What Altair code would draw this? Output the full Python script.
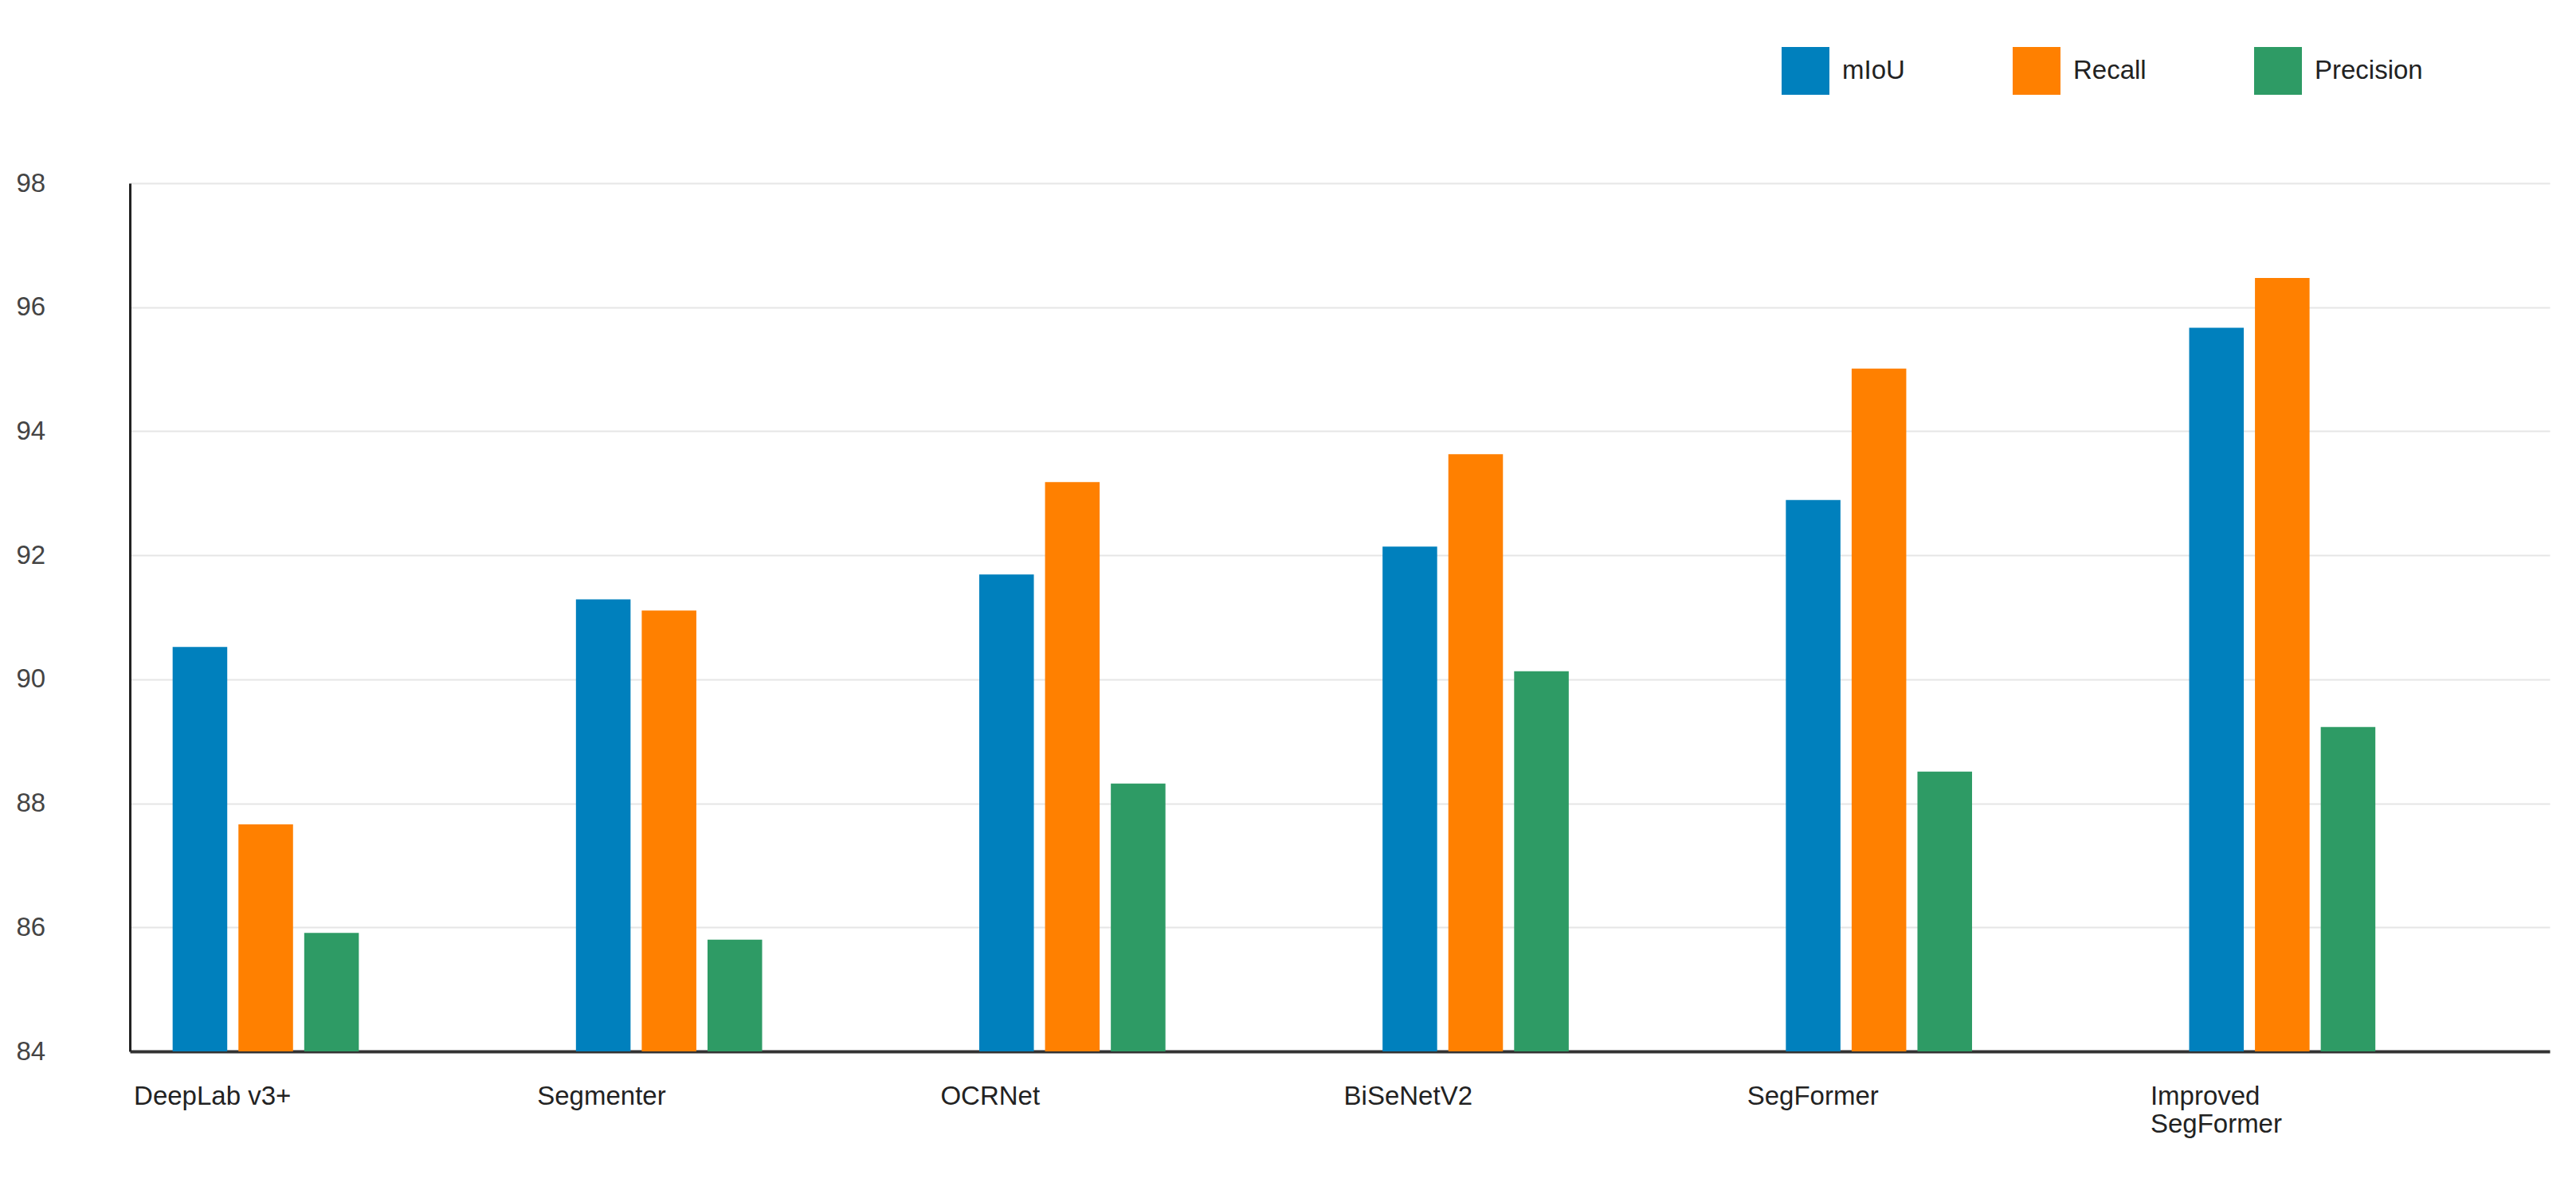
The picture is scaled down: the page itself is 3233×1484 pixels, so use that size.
import altair as alt
import pandas as pd

models = ["DeepLab v3+", "Segmenter", "OCRNet", "BiSeNetV2", "SegFormer", "Improved SegFormer"]
metrics = ["mIoU", "Recall", "Precision"]
miou = [90.52, 91.29, 91.69, 92.14, 92.89, 95.67]
recall = [87.66, 91.11, 93.18, 93.63, 95.01, 96.47]
precision = [85.91, 85.80, 88.32, 90.13, 88.51, 89.23]
colors = ["#0080BD", "#FF8000", "#2E9B65"]

rows = []
for i, m in enumerate(models):
    for name, vals in zip(metrics, [miou, recall, precision]):
        rows.append({"model": m, "metric": name, "value": vals[i]})
df = pd.DataFrame(rows)

FONT = "Liberation Sans"

chart = alt.Chart(df).mark_bar(clip=True).encode(
    x=alt.X("model:N", sort=models, title=None,
            scale=alt.Scale(paddingInner=0, paddingOuter=0),
            axis=alt.Axis(labelAngle=0, labelAlign="left", labelBaseline="top",
                          labelOffset=-248, labelPadding=40, ticks=False, labelLimit=0,
                          labelFontSize=33, labelColor="#222222", labelFont=FONT,
                          labelExpr="datum.label == 'Improved SegFormer' ? ['Improved', 'SegFormer'] : datum.label",
                          domainColor="#333333", domainWidth=4)),
    xOffset=alt.XOffset("metric:N",
                        scale=alt.Scale(domain=metrics + ["_a", "_b"],
                                        paddingInner=0.17, paddingOuter=0.65)),
    y=alt.Y("value:Q", title=None,
            scale=alt.Scale(domain=[84, 98], nice=False, zero=False),
            axis=alt.Axis(values=[84, 86, 88, 90, 92, 94, 96, 98], ticks=False,
                          labelAlign="left", labelPadding=143, labelFontSize=33,
                          labelColor="#444444", labelFont=FONT,
                          gridColor="#e6e6e6", gridWidth=2,
                          domainColor="#222222", domainWidth=3)),
    color=alt.Color("metric:N", title=None,
                    scale=alt.Scale(domain=metrics, range=colors),
                    legend=alt.Legend(orient="none", legendX=2073, legendY=-171,
                                      direction="horizontal", symbolType="square",
                                      symbolSize=3600, symbolStrokeWidth=0,
                                      labelFontSize=33, labelFont=FONT,
                                      labelColor="#222222", columnPadding=135,
                                      labelOffset=16)),
).properties(
    width=3037,
    height=1090,
    autosize=alt.AutoSizeParams(type="none"),
    padding={"left": 155, "top": 222, "right": 17, "bottom": 156},
    title=alt.TitleParams("Segmentation and abnormality-analysis performance",
                          anchor="start", fontSize=62, font=FONT, fontWeight="normal",
                          color="#13385A", offset=135, dx=-101),
).configure_view(stroke=None)

chart.save("out.html", embed_options={"renderer": "svg", "actions": False})
